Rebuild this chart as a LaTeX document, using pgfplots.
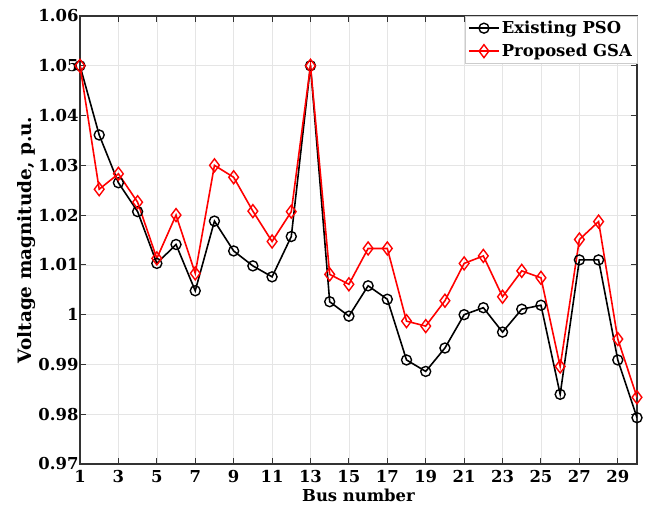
\documentclass[border=0pt]{standalone}
\usepackage{fontspec}
\setmainfont{DejaVu Serif}
\usepackage{pgfplots}
\pgfplotsset{compat=1.18}
\begin{document}
\begin{tikzpicture}[font=\bfseries]
\useasboundingbox (-80bp,-42bp) rectangle (568bp,464bp);
\begin{axis}[
  scale only axis,
  width=557bp, height=448bp,
  xmin=1, xmax=30, ymin=0.97, ymax=1.06,
  xtick={1,3,...,29},
  ytick={0.97,0.98,...,1.06},
  yticklabels={0.97,0.98,0.99,1,1.01,1.02,1.03,1.04,1.05,1.06},
  /pgf/number format/assume math mode=true,
  tick label style={font=\fontsize{16.5}{18}\selectfont\bfseries},
  xticklabel style={yshift=-3bp},
  yticklabel style={xshift=2bp},
  xlabel={Bus number},
  ylabel={Voltage magnitude, p.u.},
  xlabel style={font=\fontsize{16.5}{18}\selectfont\bfseries, yshift=1bp},
  ylabel style={font=\fontsize{18.5}{20}\selectfont\bfseries, yshift=-4bp},
  grid=major,
  major grid style={gray!20, line width=0.6pt},
  tick align=inside,
  major tick length=6bp,
  axis line style={line width=1.2pt, black!80},
  every tick/.style={black!80, line width=1pt},
  legend style={at={(1,1)}, anchor=north east, draw=gray!40, font=\fontsize{16.5}{18}\selectfont\bfseries, row sep=5bp, inner sep=3bp, cells={anchor=west}},
  legend cell align=left,
  legend image code/.code={\draw[mark repeat=2,mark phase=2] plot coordinates {(0bp,0bp) (15bp,0bp) (30bp,0bp)};},
]
\addplot[black, line width=1.6pt, mark=o, mark size=5bp, mark options={line width=1.4pt}] coordinates {
(1,1.0500) (2,1.0361) (3,1.0265) (4,1.0207) (5,1.0103) (6,1.0141) (7,1.0048) (8,1.0188) (9,1.0128) (10,1.0098)
(11,1.0076) (12,1.0157) (13,1.0500) (14,1.0026) (15,0.9997) (16,1.0058) (17,1.0031) (18,0.9909) (19,0.9886) (20,0.9933)
(21,1.0000) (22,1.0014) (23,0.9965) (24,1.0011) (25,1.0019) (26,0.9840) (27,1.0110) (28,1.0110) (29,0.9909) (30,0.9793)
};
\addlegendentry{Existing PSO}
\addplot[red, line width=1.6pt, mark=diamond, mark size=6.5bp, mark options={line width=1.4pt}] coordinates {
(1,1.0500) (2,1.0252) (3,1.0283) (4,1.0226) (5,1.0113) (6,1.0200) (7,1.0083) (8,1.0300) (9,1.0276) (10,1.0208)
(11,1.0147) (12,1.0207) (13,1.0500) (14,1.0081) (15,1.0061) (16,1.0133) (17,1.0133) (18,0.9987) (19,0.9977) (20,1.0028)
(21,1.0103) (22,1.0118) (23,1.0036) (24,1.0088) (25,1.0074) (26,0.9896) (27,1.0151) (28,1.0187) (29,0.9951) (30,0.9834)
};
\addlegendentry{Proposed GSA}
\end{axis}
\end{tikzpicture}
\end{document}
